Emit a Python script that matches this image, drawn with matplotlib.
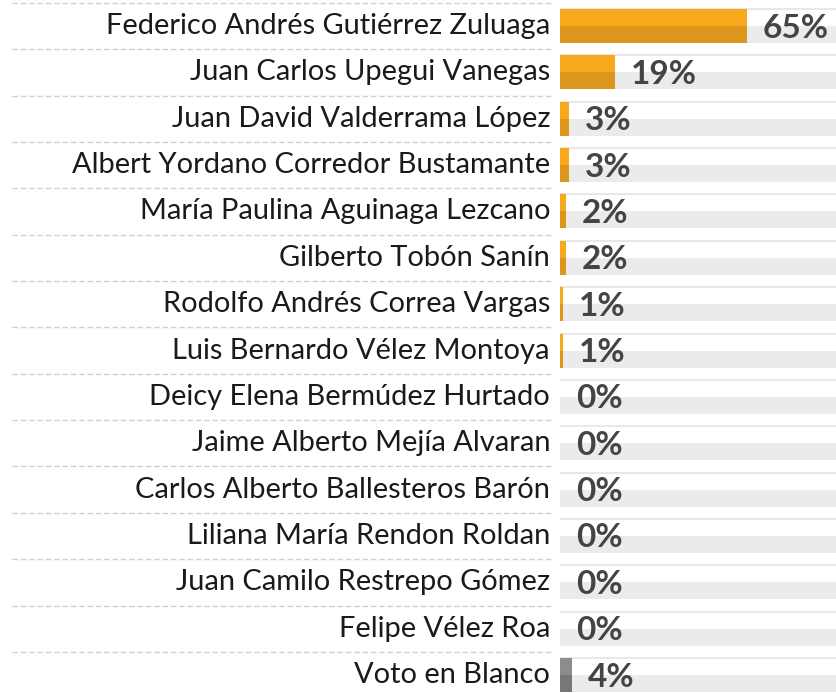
import matplotlib
matplotlib.use("Agg")
import matplotlib.pyplot as plt
from matplotlib.transforms import blended_transform_factory

names = [
    "Federico Andrés Gutiérrez Zuluaga",
    "Juan Carlos Upegui Vanegas",
    "Juan David Valderrama López",
    "Albert Yordano Corredor Bustamante",
    "María Paulina Aguinaga Lezcano",
    "Gilberto Tobón Sanín",
    "Rodolfo Andrés Correa Vargas",
    "Luis Bernardo Vélez Montoya",
    "Deicy Elena Bermúdez Hurtado",
    "Jaime Alberto Mejía Alvaran",
    "Carlos Alberto Ballesteros Barón",
    "Liliana María Rendon Roldan",
    "Juan Camilo Restrepo Gómez",
    "Felipe Vélez Roa",
    "Voto en Blanco",
]
values = [65, 19, 3, 3, 2, 2, 1, 1, 0, 0, 0, 0, 0, 0, 4]
labels = ["65%", "19%", "3%", "3%", "2%", "2%", "1%", "1%", "0%", "0%", "0%", "0%", "0%", "0%", "4%"]
is_blank = [False] * 14 + [True]

W, H = 836, 693
DPI = 100
fig = plt.figure(figsize=(W / DPI, H / DPI), dpi=DPI)
fig.patch.set_facecolor("white")

ax_left = 560 / W
ax = fig.add_axes([ax_left, 0, 1 - ax_left, 1])
ax.set_axis_off()

pitch = 46.36
c0 = 26.0
n = len(names)
ax.set_xlim(0, 96)
ax.set_ylim((H - c0) / pitch, -c0 / pitch)

xmax = 96
bh = 34 / pitch
half = bh / 2
ys = list(range(n))

# background bars: top white, bottom light gray, thin top border
ax.barh(ys, [xmax] * n, height=half, align="edge", color="white", zorder=1)
ax.barh([y + half for y in ys], [xmax] * n, height=-half, align="edge", color="#ebebeb", zorder=1)
for y in ys:
    ax.plot([0, xmax], [y - half, y - half], color="#e4e4e4", lw=1.2, zorder=2, solid_capstyle="butt")

top_cols = ["#8c8c8c" if b else "#f7a81b" for b in is_blank]
bot_cols = ["#777777" if b else "#dc961b" for b in is_blank]
ax.barh([y - half for y in ys], values, height=half, align="edge", color=top_cols, zorder=3)
ax.barh(ys, values, height=half, align="edge", color=bot_cols, zorder=3)

fam = ["Lato", "DejaVu Sans"]
for y, v, lab in zip(ys, values, labels):
    ax.annotate(lab, xy=(v, y), xytext=(16, -2), textcoords="offset pixels",
                ha="left", va="center", fontsize=24, fontweight="bold",
                color="#444444", family=fam, zorder=4)

trans = blended_transform_factory(fig.transFigure, ax.transData)
for y, name in zip(ys, names):
    fig.text(550 / W, y, name, transform=trans, ha="right", va="center",
             fontsize=20.9, color="#1a1a1a", family=fam, fontweight="normal")
    line_y = y - 0.5
    fig.add_artist(plt.Line2D([12 / W, 553 / W], [line_y, line_y], transform=trans,
                              color="#d0d0d0", lw=1.0, ls=(0, (4, 2))))

fig.savefig("out.png", dpi=DPI, facecolor="white")
